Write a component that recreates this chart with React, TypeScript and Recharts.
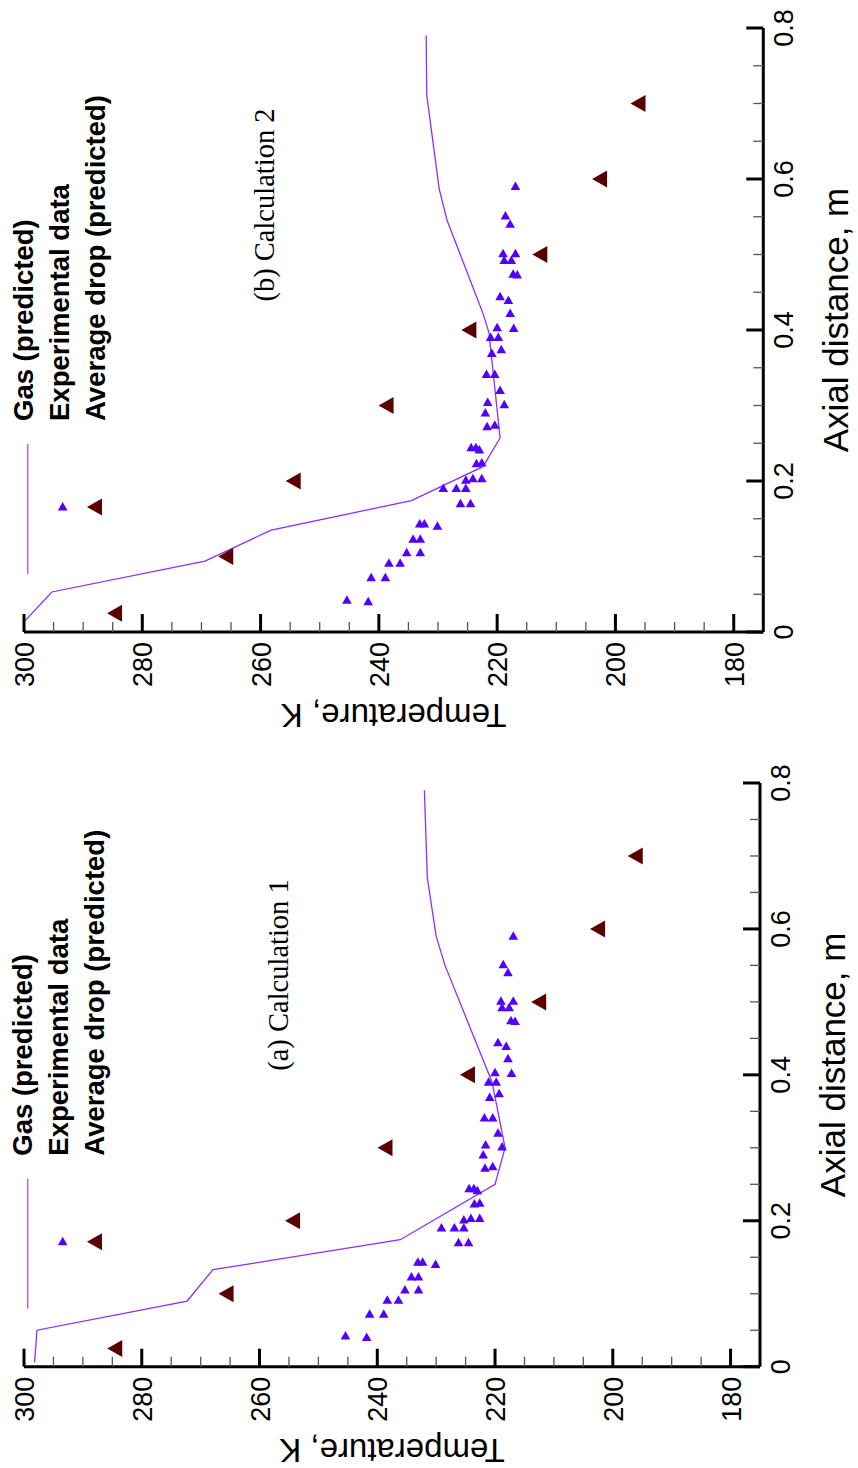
import { ScatterChart, Scatter, XAxis, YAxis } from "recharts";

// temperature axis (K) and axial distance axis (m)
const tempTicks = [300, 295, 290, 285, 280, 275, 270, 265, 260, 255, 250, 245, 240, 235, 230, 225, 220, 215, 210, 205, 200, 195, 190, 185, 180];
const distTicks = [0, 0.05, 0.1, 0.15, 0.2, 0.25, 0.3, 0.35, 0.4, 0.45, 0.5, 0.55, 0.6, 0.65, 0.7, 0.75, 0.8];

// experimental data (same in both panels)
const expDist = [0.59, 0.551, 0.54, 0.501, 0.501, 0.492, 0.492, 0.474, 0.473, 0.444, 0.439, 0.422, 0.402, 0.403, 0.39, 0.39, 0.374, 0.369, 0.341, 0.341, 0.32, 0.304, 0.301, 0.29, 0.272, 0.274, 0.244, 0.244, 0.241, 0.223, 0.224, 0.201, 0.203, 0.203, 0.19, 0.19, 0.19, 0.17, 0.17, 0.143, 0.143, 0.14, 0.123, 0.123, 0.105, 0.105, 0.091, 0.091, 0.072, 0.072, 0.04, 0.042];
const expTemp = [216.9, 218.6, 217.8, 219.0, 216.9, 218.8, 217.6, 217.3, 216.6, 219.5, 218.1, 217.8, 217.2, 220.0, 221.1, 219.8, 219.3, 220.9, 221.8, 220.4, 219.5, 221.6, 218.8, 222.0, 221.7, 220.4, 224.4, 223.6, 223.0, 223.5, 222.6, 225.3, 224.1, 222.6, 229.1, 226.9, 225.3, 226.2, 224.5, 233.1, 232.3, 230.1, 234.2, 233.0, 235.3, 233.0, 238.3, 236.4, 241.3, 238.9, 241.8, 245.4];

// average drop (predicted)
const dropDist = [0.025, 0.1, 0.2, 0.3, 0.4, 0.5, 0.6, 0.7];
const dropTempA = [284.5, 265.6, 254.3, 238.6, 224.6, 212.5, 202.5, 196.1];
const dropTempB = [284.6, 265.8, 254.4, 238.7, 224.7, 212.7, 202.6, 196.1];

// gas (predicted)
const gasDistA = [0.006, 0.05, 0.09, 0.133, 0.174, 0.25, 0.3, 0.39, 0.43, 0.55, 0.59, 0.67, 0.79];
const gasTempA = [298.2, 297.8, 272.3, 267.9, 236.1, 220.0, 218.3, 220.5, 222.5, 228.5, 230.0, 231.5, 232.0];
const gasDistB = [0.015, 0.053, 0.094, 0.135, 0.174, 0.219, 0.257, 0.397, 0.422, 0.546, 0.587, 0.711, 0.79];
const gasTempB = [299.8, 295.3, 269.4, 258.2, 234.5, 222.4, 219.5, 221.4, 222.4, 228.5, 229.8, 231.9, 232.0];

const toPts = (d: number[], t: number[]) => d.map((v, i) => ({ d: v, t: t[i] }));

const BLUE = "#5200ff";
const DROP = "#5a0000";
const GAS = "#8f2cff";
const SANS = "'Liberation Sans', Arial, sans-serif";
const SERIF = "'Liberation Serif', 'Times New Roman', serif";

function BlueTri(p: any) {
  const { cx, cy } = p;
  return <polygon points={`${cx},${cy - 5} ${cx + 4.8},${cy + 3.5} ${cx - 4.8},${cy + 3.5}`} fill={BLUE} />;
}

function DropTri(p: any) {
  const { cx, cy } = p;
  return <polygon points={`${cx - 8},${cy} ${cx + 7},${cy - 8.5} ${cx + 7},${cy + 8.5}`} fill={DROP} />;
}

interface PanelProps {
  top: number;
  height: number;
  plotTop: number;
  plotBottom: number;
  plotLeft: number;
  plotRight: number;
  gas: { d: number; t: number }[];
  drops: { d: number; t: number }[];
  title: string;
  titleX: number;
  titleY: number;
}

function Panel({ top, height, plotTop, plotBottom, plotLeft, plotRight, gas, drops, title, titleX, titleY }: PanelProps) {
  const exp = toPts(expDist, expTemp);

  const tempTick = (p: any) => {
    const v = p.payload.value;
    const major = v % 20 === 0;
    return (
      <g>
        <line x1={p.x} x2={p.x} y1={plotBottom} y2={plotBottom - (major ? 18 : 10)} stroke={major ? "#000" : "#555"} strokeWidth={major ? 3 : 1.3} />
        {major && (
          <text x={p.x + 10} y={plotBottom + 10} transform={`rotate(-90, ${p.x + 10}, ${plotBottom + 10})`} textAnchor="end" fontFamily={SANS} fontSize={27} fill="#000">
            {v}
          </text>
        )}
      </g>
    );
  };

  const distTick = (p: any) => {
    const v = p.payload.value;
    const major = Math.round(v * 100) % 20 === 0;
    return (
      <g>
        <line x1={plotRight} x2={plotRight - (major ? 17 : 10)} y1={p.y} y2={p.y} stroke={major ? "#000" : "#555"} strokeWidth={major ? 3 : 1.3} />
        {major && (
          <text x={plotRight + 30} y={p.y} transform={`rotate(-90, ${plotRight + 30}, ${p.y})`} textAnchor="middle" fontFamily={SANS} fontSize={27} fill="#000">
            {String(v)}
          </text>
        )}
      </g>
    );
  };

  const midX = (plotLeft + plotRight) / 2;
  const midY = (plotTop + plotBottom) / 2 - 10;
  const legTextY = plotBottom - 211;
  const symY = plotBottom - 125;

  return (
    <div style={{ position: "absolute", left: 0, top, width: 858, height }}>
      <ScatterChart width={858} height={height} margin={{ top: plotTop, right: 0, left: plotLeft, bottom: 0 }}>
        <XAxis
          type="number"
          dataKey="t"
          domain={[175, 300]}
          reversed
          ticks={tempTicks}
          interval={0}
          height={height - plotBottom}
          tickLine={false}
          axisLine={{ stroke: "#000", strokeWidth: 3 }}
          tick={tempTick}
          allowDataOverflow
        />
        <YAxis
          type="number"
          dataKey="d"
          domain={[0, 0.8]}
          orientation="right"
          ticks={distTicks}
          interval={0}
          width={858 - plotRight}
          tickLine={false}
          axisLine={{ stroke: "#000", strokeWidth: 3 }}
          tick={distTick}
          allowDataOverflow
        />
        <Scatter data={gas} line={{ stroke: GAS, strokeWidth: 1.3 }} shape={() => <g />} isAnimationActive={false} />
        <Scatter data={exp} shape={BlueTri} isAnimationActive={false} />
        <Scatter data={drops} shape={DropTri} isAnimationActive={false} />
      </ScatterChart>
      <svg width={858} height={height} style={{ position: "absolute", left: 0, top: 0, pointerEvents: "none" }}>
        {/* legend */}
        <line x1={27.7} x2={27.7} y1={plotBottom - 188} y2={plotBottom - 58} stroke="#a466ff" strokeWidth={1.5} />
        <BlueTri cx={62.7} cy={symY} />
        <DropTri cx={95} cy={symY} />
        {["Gas (predicted)", "Experimental data", "Average drop (predicted)"].map((s, i) => {
          const bx = 32.5 + i * 36;
          return (
            <text key={s} x={bx} y={legTextY} transform={`rotate(-90, ${bx}, ${legTextY})`} fontFamily={SANS} fontWeight="bold" fontSize={27.5} fill="#000">
              {s}
            </text>
          );
        })}
        {/* panel title */}
        <text x={titleX} y={titleY} transform={`rotate(-90, ${titleX}, ${titleY})`} textAnchor="middle" fontFamily={SERIF} fontSize={28.5} fill="#000">
          {title}
        </text>
        {/* axis titles */}
        <text x={midX} y={plotBottom + 72} transform={`rotate(180, ${midX}, ${plotBottom + 72})`} textAnchor="middle" fontFamily={SANS} fontSize={33} fill="#000">
          Temperature, K
        </text>
        <text x={plotRight + 85} y={midY} transform={`rotate(-90, ${plotRight + 85}, ${midY})`} textAnchor="middle" fontFamily={SANS} fontSize={35} fill="#000">
          Axial distance, m
        </text>
      </svg>
    </div>
  );
}

export default function App() {
  return (
    <div style={{ position: "absolute", left: 0, top: 0, width: 858, height: 1468, background: "#fff" }}>
      <Panel
        top={0}
        height={740}
        plotTop={28}
        plotBottom={632}
        plotLeft={24}
        plotRight={763.3}
        gas={toPts(gasDistB, gasTempB)}
        drops={toPts(dropDist, dropTempB)}
        title="(b) Calculation 2"
        titleX={274}
        titleY={205}
      />
      <Panel
        top={740}
        height={728}
        plotTop={43}
        plotBottom={626.7}
        plotLeft={24}
        plotRight={760}
        gas={toPts(gasDistA, gasTempA)}
        drops={toPts(dropDist, dropTempA)}
        title="(a) Calculation 1"
        titleX={288}
        titleY={235}
      />
    </div>
  );
}
